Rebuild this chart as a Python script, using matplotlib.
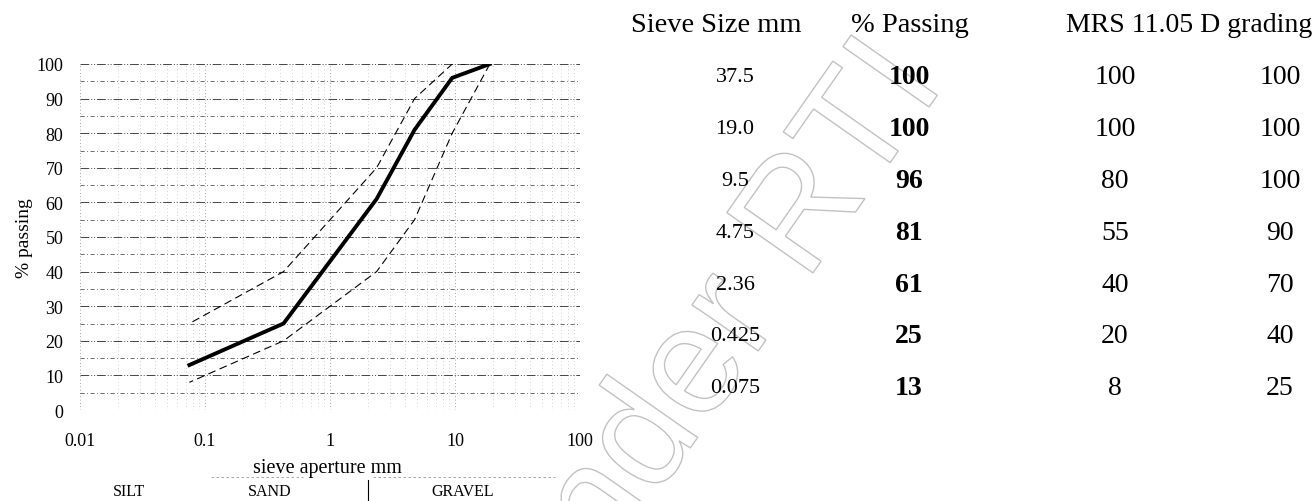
import matplotlib
matplotlib.use("Agg")
import matplotlib.pyplot as plt
from matplotlib.lines import Line2D
from matplotlib import patheffects
from matplotlib.ticker import LogLocator, NullFormatter, MultipleLocator

plt.rcParams['font.family'] = ['Liberation Serif', 'DejaVu Serif']

# данные ситового анализа
sieve_sizes = [37.5, 19.0, 9.5, 4.75, 2.36, 0.425, 0.075]
sieve_labels = ["37.5", "19.0", "9.5", "4.75", "2.36", "0.425", "0.075"]
passing = [100, 100, 96, 81, 61, 25, 13]
grading_low = [100, 100, 80, 55, 40, 20, 8]
grading_high = [100, 100, 100, 90, 70, 40, 25]

x_ticks = [0.01, 0.1, 1, 10, 100]
x_tick_labels = ["0.01", "0.1", "1", "10", "100"]
headers = ["Sieve Size mm", "% Passing", "MRS 11.05 D grading"]
zones = ["SILT", "SAND", "GRAVEL"]

W, H = 1314, 502


def fx(x):
    return x / W


def fy(y):
    return 1 - y / H


fig = plt.figure(figsize=(W / 100, H / 100), dpi=100)

# водяной знак (контурный текст)
fig.text(fx(712), fy(350), "Under RTI", rotation=55, ha='center', va='center',
         fontsize=110, family='Liberation Sans', color='none', zorder=0,
         path_effects=[patheffects.PathPatchEffect(edgecolor='#c2c2c2',
                                                   facecolor='none', linewidth=1.0)])

ax = fig.add_axes([fx(80), fy(411), 500 / W, 346 / H])
ax.set_xscale('log')
ax.set_xlim(0.01, 100)
ax.set_ylim(0, 100)

# кривые (точки до 19 мм)
ax.plot(sieve_sizes[1:], grading_low[1:], color='black', lw=0.8,
        linestyle=(0, (7, 4)), zorder=3)
ax.plot(sieve_sizes[1:], grading_high[1:], color='black', lw=0.8,
        linestyle=(0, (7, 4)), zorder=3)
ax.plot(sieve_sizes[1:], passing[1:], color='black', lw=2.8, zorder=4,
        solid_joinstyle='miter')

ax.yaxis.set_major_locator(MultipleLocator(10))
ax.yaxis.set_minor_locator(MultipleLocator(5))
ax.xaxis.set_minor_locator(LogLocator(base=10, subs=range(2, 10)))
ax.xaxis.set_minor_formatter(NullFormatter())
ax.grid(True, which='major', axis='y', color='#444444', lw=0.7,
        linestyle=(0, (9, 2, 1, 2, 1, 2)))
ax.grid(True, which='minor', axis='y', color='#555555', lw=0.6,
        linestyle=(0, (5, 3, 1, 3)))
ax.grid(True, which='major', axis='x', color='#888888', lw=0.6,
        linestyle=(0, (1, 3)))
ax.grid(True, which='minor', axis='x', color='#aaaaaa', lw=0.5,
        linestyle=(0, (1, 4)))
for s in ax.spines.values():
    s.set_visible(False)

ax.set_xticks(x_ticks, labels=x_tick_labels)
ax.tick_params(axis='both', which='both', length=0, labelsize=13)
ax.tick_params(axis='x', pad=16)
ax.tick_params(axis='y', pad=12)
ax.set_ylabel("% passing", fontsize=14)
ax.yaxis.set_label_coords(-0.094, 0.5)

fig.text(fx(327), fy(469), "sieve aperture mm", ha='center', va='center', fontsize=14.5)
for name, xp in zip(zones, [129, 270, 463]):
    fig.text(fx(xp), fy(492), name, ha='center', va='center', fontsize=11.5)
fig.add_artist(Line2D([fx(368), fx(368)], [fy(481), fy(502)], color='black', lw=0.8))
fig.add_artist(Line2D([fx(211), fx(303)], [fy(478), fy(478)], color='#999999',
                      lw=0.6, linestyle=(0, (3, 3))))
fig.add_artist(Line2D([fx(373), fx(555)], [fy(478), fy(478)], color='#999999',
                      lw=0.6, linestyle=(0, (3, 3))))

# таблица справа
fig.text(fx(716), fy(25), headers[0], ha='center', va='center', fontsize=20.5)
fig.text(fx(910), fy(25), headers[1], ha='center', va='center', fontsize=20.5)
fig.text(fx(1312), fy(25), headers[2], ha='right', va='center', fontsize=20)

row_y = [78 + i * 51.8 for i in range(len(sieve_labels))]
for lab, p, lo, hi, yp in zip(sieve_labels, passing, grading_low, grading_high, row_y):
    fig.text(fx(735), fy(yp), lab, ha='center', va='center', fontsize=16)
    fig.text(fx(909), fy(yp), str(p), ha='center', va='center', fontsize=20,
             fontweight='bold')
    fig.text(fx(1115), fy(yp), str(lo), ha='center', va='center', fontsize=20)
    fig.text(fx(1280), fy(yp), str(hi), ha='center', va='center', fontsize=20)

fig.savefig("out.png", dpi=100, facecolor='white')
